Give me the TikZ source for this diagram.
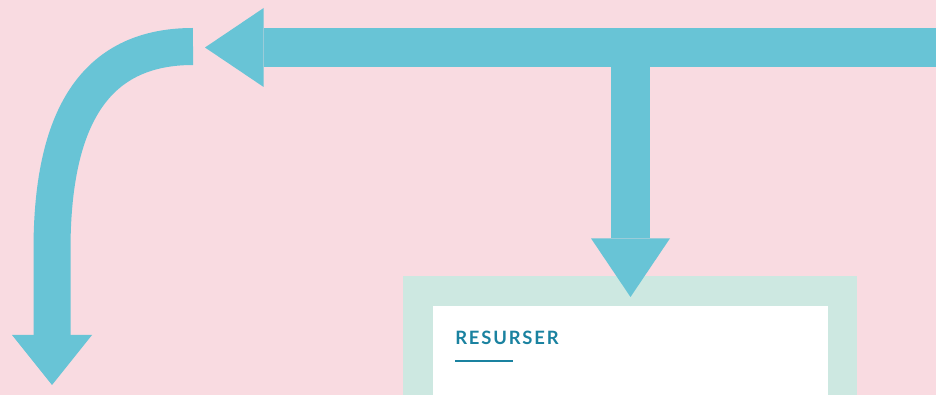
\documentclass[tikz,border=0pt]{standalone}
\usepackage{fontspec}
\usepackage{xcolor}
\usepackage{tikz}
\usetikzlibrary{positioning,arrows.meta}
\newfontfamily\headfont[LetterSpace=10]{Lato}
\definecolor{bgpink}{HTML}{F9DBE1}
\definecolor{flowblue}{HTML}{68C4D6}
\definecolor{mintframe}{HTML}{CDE8E1}
\definecolor{headteal}{HTML}{1A82A0}

\begin{document}
\begin{tikzpicture}[x=0.75pt, y=-0.75pt,
  flow/.style={line width=29.25pt, flowblue, -{Triangle[width=59.25pt, length=44pt, line width=0pt]}}]
\useasboundingbox (0,0) rectangle (936,395);
\clip (0,0) rectangle (936,395);
\fill[bgpink] (0,0) rectangle (936,395);
\node[fill=mintframe, anchor=north west, inner sep=0, minimum width=340.5pt, minimum height=120pt] (frame) at (403,276) {};
\node[fill=white, anchor=north west, inner sep=0, minimum width=296.25pt, minimum height=100pt] (card) at (433,306) {};
\node[anchor=base west, inner sep=0, text=headteal, font=\headfont\bfseries\fontsize{13.8}{16}\selectfont] (title) at (455,345) {RESURSER};
\draw[headteal, line width=1.5pt] (455,361) -- (513,361);
\coordinate (rightend) at (936,47.5);
\coordinate (lefttip) at (205,47.5);
\coordinate (branch) at (630.5,47.5);
\coordinate (downtip) at (630.5,297);
\coordinate (curvestart) at (193,46.5);
\coordinate (curvetip) at (52,385);
\draw[flow] (rightend) -- (lefttip);
\draw[flow] (branch) -- (downtip);
\draw[flow, line width=27.75pt, -{Triangle[width=60pt, length=37.5pt, line width=0pt]}] (curvestart) .. controls (100,46.5) and (52,110) .. (52,250) -- (curvetip);
\end{tikzpicture}
\end{document}
